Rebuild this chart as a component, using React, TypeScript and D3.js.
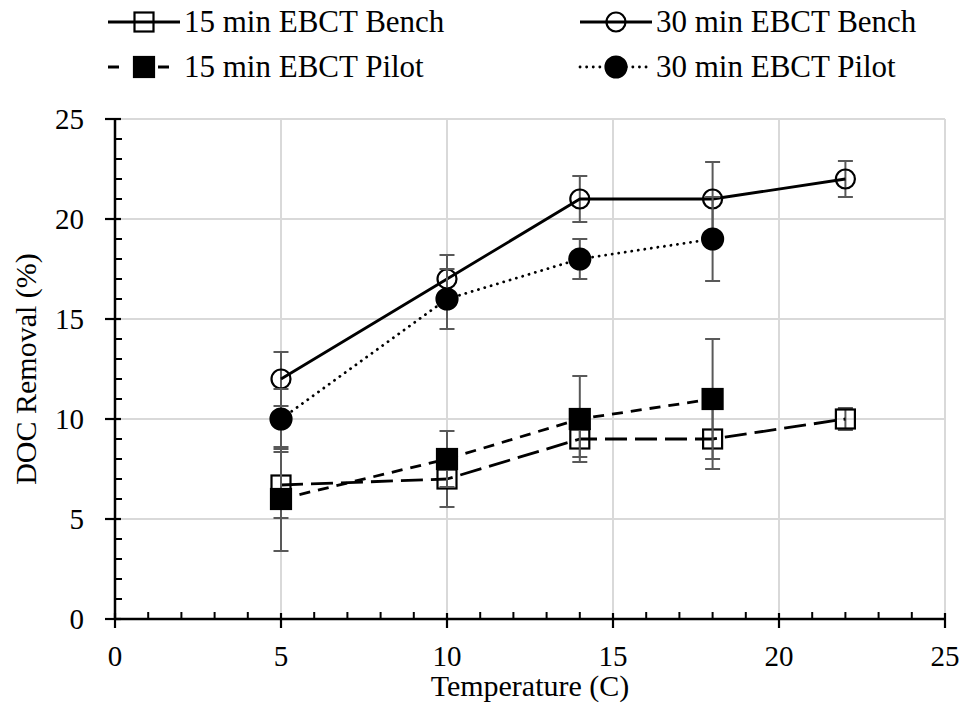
import React from "react";
import * as d3 from "d3";

// Temperatures (C) for each series
const benchTemps = [5, 10, 14, 18, 22];
const pilotTemps = [5, 10, 14, 18];

// DOC removal (%) and error-bar half-widths
const bench15 = [6.7, 7, 9, 9, 10];
const bench15Err = [1.65, 1.4, 0.9, 1.5, 0.55];
const pilot15 = [6, 8, 10, 11];
const pilot15Err = [2.6, 1.4, 2.15, 3.0];
const bench30 = [12, 17, 21, 21, 22];
const bench30Err = [1.35, 1.2, 1.15, 1.85, 0.9];
const pilot30 = [10, 16, 18, 19];
const pilot30Err = [1.5, 1.5, 1.0, 2.1];

const xTicks = [0, 5, 10, 15, 20, 25];
const yTicks = [0, 5, 10, 15, 20, 25];

const seriesLabels = [
  "15 min EBCT Bench",
  "30 min EBCT Bench",
  "15 min EBCT Pilot",
  "30 min EBCT Pilot",
];

type Series = {
  label: string;
  xs: number[];
  ys: number[];
  errs: number[];
  marker: "square" | "circle";
  filled: boolean;
  dash: string | null;
  legendDash: string | null;
  cap: "butt" | "round";
};

const series: Series[] = [
  { label: seriesLabels[0], xs: benchTemps, ys: bench15, errs: bench15Err, marker: "square", filled: false, dash: "22 8", legendDash: null, cap: "butt" },
  { label: seriesLabels[2], xs: pilotTemps, ys: pilot15, errs: pilot15Err, marker: "square", filled: true, dash: "11 8", legendDash: "11 14", cap: "butt" },
  { label: seriesLabels[1], xs: benchTemps, ys: bench30, errs: bench30Err, marker: "circle", filled: false, dash: null, legendDash: null, cap: "butt" },
  { label: seriesLabels[3], xs: pilotTemps, ys: pilot30, errs: pilot30Err, marker: "circle", filled: true, dash: "0.1 6.5", legendDash: "0.1 6.5", cap: "round" },
];

const FONT = "Liberation Serif, Times New Roman, serif";
const textStyle = { fontFamily: FONT };
const W = 964;
const H = 715;
const left = 115;
const right = 945;
const top = 119;
const bottom = 619;

const x = d3.scaleLinear().domain([0, 25]).range([left, right]);
const y = d3.scaleLinear().domain([0, 25]).range([bottom, top]);

function Marker({ s, cx, cy }: { s: Series; cx: number; cy: number }) {
  const fill = s.filled ? "#000" : "none";
  if (s.marker === "square") {
    const size = s.filled ? 20 : 19;
    return (
      <rect x={cx - size / 2} y={cy - size / 2} width={size} height={size}
        fill={fill} stroke="#000" strokeWidth={2.2} />
    );
  }
  return <circle cx={cx} cy={cy} r={s.filled ? 10.5 : 9.5} fill={fill} stroke="#000" strokeWidth={2.2} />;
}

export default function App() {
  const line = d3.line<[number, number]>().x((d) => x(d[0])).y((d) => y(d[1]));
  const minorX = d3.range(0, 26, 1).filter((v) => v % 5 !== 0);
  const minorY = d3.range(0, 26, 1).filter((v) => v % 5 !== 0);

  const legendItems = [
    { s: series[0], lx: 108, ly: 22 },
    { s: series[2], lx: 580, ly: 22 },
    { s: series[1], lx: 108, ly: 67 },
    { s: series[3], lx: 580, ly: 67 },
  ];

  return (
    <svg width={W} height={H} style={{ display: "block", position: "absolute", left: 0, top: 0 }}>
      <rect width={W} height={H} fill="#fff" />
      {/* gridlines */}
      {yTicks.filter((t) => t > 0).map((t) => (
        <line key={"gy" + t} x1={left} x2={right} y1={y(t)} y2={y(t)} stroke="#d9d9d9" strokeWidth={2} />
      ))}
      {xTicks.filter((t) => t > 0).map((t) => (
        <line key={"gx" + t} x1={x(t)} x2={x(t)} y1={top} y2={bottom} stroke="#d9d9d9" strokeWidth={2} />
      ))}
      {/* axes */}
      <line x1={left} x2={right} y1={bottom} y2={bottom} stroke="#000" strokeWidth={2.5} />
      <line x1={left} x2={left} y1={top} y2={bottom} stroke="#000" strokeWidth={2.5} />
      {xTicks.map((t) => (
        <line key={"tx" + t} x1={x(t)} x2={x(t)} y1={bottom - 6} y2={bottom + 9} stroke="#000" strokeWidth={2.2} />
      ))}
      {minorX.map((t) => (
        <line key={"mx" + t} x1={x(t)} x2={x(t)} y1={bottom - 7} y2={bottom} stroke="#000" strokeWidth={2} />
      ))}
      {yTicks.map((t) => (
        <line key={"ty" + t} x1={left - 10} x2={left + 6} y1={y(t)} y2={y(t)} stroke="#000" strokeWidth={2.2} />
      ))}
      {minorY.map((t) => (
        <line key={"my" + t} x1={left} x2={left + 7} y1={y(t)} y2={y(t)} stroke="#000" strokeWidth={2} />
      ))}
      {xTicks.map((t) => (
        <text key={"lx" + t} x={x(t)} y={666} textAnchor="middle" fontSize={29} fill="#000" style={textStyle}>{t}</text>
      ))}
      {yTicks.map((t) => (
        <text key={"ly" + t} x={84} y={y(t) + 10} textAnchor="end" fontSize={29} fill="#000" style={textStyle}>{t}</text>
      ))}
      <text x={530} y={696} textAnchor="middle" fontSize={30} fill="#000" style={textStyle}>Temperature (C)</text>
      <text transform={`translate(36,369) rotate(-90)`} textAnchor="middle" fontSize={30} fill="#000" style={textStyle}>DOC Removal (%)</text>

      {/* series */}
      {series.map((s, i) => {
        const pts = s.xs.map((v, j) => [v, s.ys[j]] as [number, number]);
        return (
          <g key={"s" + i}>
            {pts.map((p, j) => {
              const cx = x(p[0]);
              const y1 = y(p[1] + s.errs[j]);
              const y2 = y(p[1] - s.errs[j]);
              return (
                <g key={"e" + j} stroke="#595959" strokeWidth={2}>
                  <line x1={cx} x2={cx} y1={y1} y2={y2} />
                  <line x1={cx - 7.5} x2={cx + 7.5} y1={y1} y2={y1} />
                  <line x1={cx - 7.5} x2={cx + 7.5} y1={y2} y2={y2} />
                </g>
              );
            })}
            <path d={line(pts) ?? ""} fill="none" stroke="#000" strokeWidth={2.8}
              strokeDasharray={s.dash ?? undefined} strokeLinecap={s.cap} strokeLinejoin="round" />
            {pts.map((p, j) => (
              <Marker key={"m" + j} s={s} cx={x(p[0])} cy={y(p[1])} />
            ))}
          </g>
        );
      })}

      {/* legend */}
      {legendItems.map((it, i) => (
        <g key={"lg" + i}>
          <line x1={it.lx} x2={it.lx + 72} y1={it.ly} y2={it.ly} stroke="#000" strokeWidth={2.8}
            strokeDasharray={it.s.legendDash ?? undefined} strokeLinecap={it.s.cap} />
          <Marker s={it.s} cx={it.lx + 36} cy={it.ly} />
          <text x={it.lx + 76} y={it.ly + 10} fontSize={31} fill="#000" style={textStyle}>{it.s.label}</text>
        </g>
      ))}
    </svg>
  );
}
